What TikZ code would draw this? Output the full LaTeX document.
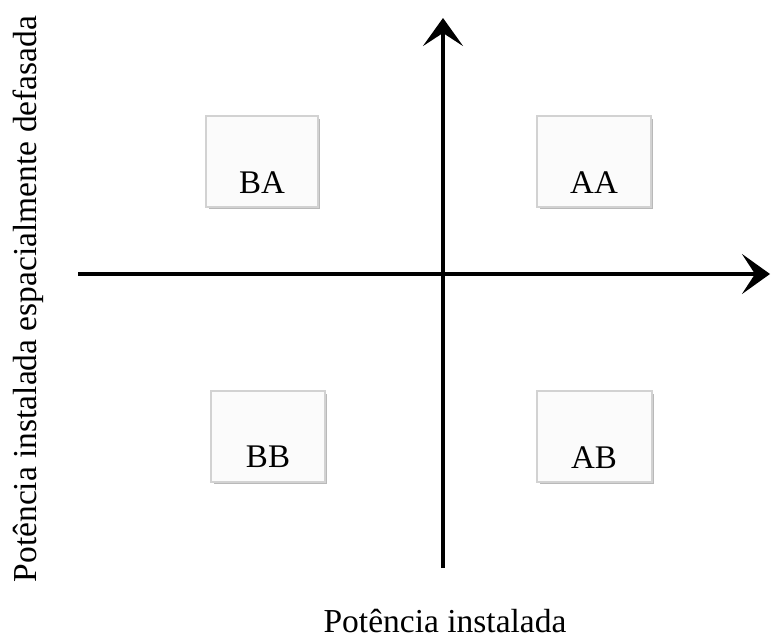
\documentclass[tikz,border=0pt]{standalone}
\usepackage{fontspec}
\setmainfont{Liberation Serif}
\usetikzlibrary{arrows.meta}
\begin{document}
\begin{tikzpicture}[x=1pt,y=-1pt,
  axis/.style={line width=4pt,-{Stealth[length=28pt,width=40pt,inset=13pt]}},
  quad/.style={draw=gray!35,fill=gray!3,line width=1.2pt},
  qshadow/.style={draw=gray!55,line width=1.6pt},
  lbl/.style={font=\fontsize{33}{38}\selectfont,anchor=base,inner sep=0pt},
  axlbl/.style={font=\fontsize{33.5}{40}\selectfont,anchor=base,inner sep=0pt}]
\useasboundingbox (0,0) rectangle (771,639);
% boxes
\foreach \n/\xa/\ya/\xb/\yb in {ba/206/116/318/207, aa/537/116/651/207, bb/211/391/325/482, ab/537/391/652/482}{
  \draw[qshadow] (\xb+1,\ya+3) -- (\xb+1,\yb+1) -- (\xa+3,\yb+1);
  \path[quad] (\xa,\ya) rectangle (\xb,\yb);
}
\node[lbl] (tba) at (262,194) {BA};
\node[lbl] (taa) at (594,194) {AA};
\node[lbl] (tbb) at (268,467) {BB};
\node[lbl] (tab) at (594,468) {AB};
% axes
\coordinate (hl) at (78,274);
\coordinate (hr) at (770,274);
\coordinate (vb) at (443,568);
\coordinate (vt) at (443,18);
\draw[axis] (hl) -- (hr);
\draw[axis] (vb) -- (vt);
% axis labels
\node[axlbl] (xl) at (445,632) {Potência instalada};
\node[axlbl,rotate=90] (yl) at (36,299) {Potência instalada espacialmente defasada};
\end{tikzpicture}
\end{document}
